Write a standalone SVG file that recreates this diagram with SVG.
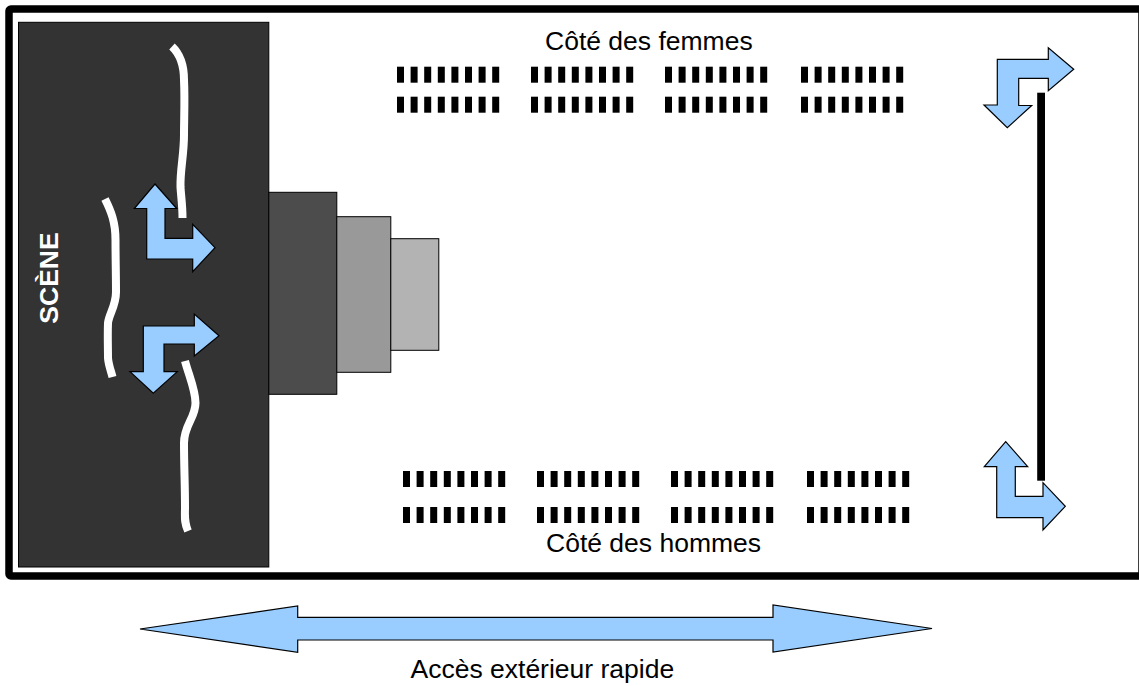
<svg xmlns="http://www.w3.org/2000/svg" width="1139" height="686" viewBox="0 0 1139 686">
<style>
.lbl{font-family:"Liberation Sans",Arial,sans-serif;font-size:26.500px;fill:#000}
.arr{fill:#99ccff;stroke:#000;stroke-width:1.2;stroke-linejoin:miter}
.box{stroke:#000;stroke-width:1}
.curtain{fill:none;stroke:#fff;stroke-width:8}
.seat{fill:#000}
</style>
<defs>
<g id="row"><rect class="seat" x="0" width="7" height="16"/><rect class="seat" x="13.6" width="7" height="16"/><rect class="seat" x="27.2" width="7" height="16"/><rect class="seat" x="40.8" width="7" height="16"/><rect class="seat" x="54.4" width="7" height="16"/><rect class="seat" x="68" width="7" height="16"/><rect class="seat" x="81.6" width="7" height="16"/><rect class="seat" x="95.2" width="7" height="16"/></g>
</defs>
<rect width="1139" height="686" fill="#fff"/>
<rect id="hall" x="9" y="9" width="1133" height="567" rx="2" fill="#fff" stroke="#000" stroke-width="7.5"/>
<g id="stage">
<rect class="box" x="18.5" y="22.3" width="250.3" height="544.7" fill="#333"/>
<text transform="translate(57.500,278) rotate(-90)" text-anchor="middle" font-family="'Liberation Sans',Arial,sans-serif" font-size="26.500" font-weight="bold" fill="#fff">SCÈNE</text>
</g>
<g id="steps">
<rect class="box" x="268.8" y="192.3" width="68" height="202" fill="#4c4c4c"/>
<rect class="box" x="336.8" y="216.7" width="54" height="155.6" fill="#999"/>
<rect class="box" x="390.8" y="238.7" width="48" height="111.6" fill="#b3b3b3"/>
</g>
<g id="curtains">
<path class="curtain" d="M172,46.5C181,55 184,66 184,80C185,100 184,118 184,135C184,155 180,170 180.5,187C181,196 182.5,205 182.5,218"/>
<path class="curtain" d="M105,199C111,211 115.500,222 115.500,240C115.500,258 116,275 116,292C116,306 109,314 108,323C107.500,335 108,348 108,358C108.500,365 111,371 112.500,377"/>
<path class="curtain" d="M185,361C189,376 195.500,390 195.500,403C195.500,418 184,425 184,443C184,465 185,485 185,507C185,517 184,522 188,531"/>
</g>
<g id="connectors">
<polygon id="arrow-stage-top" class="arr" points="155,184 176.700,208.500 165,208.500 165,238.300 192.700,238.300 192.700,224.300 215,247.700 192.700,271.700 192.700,259 146.700,259 146.700,208.500 134.300,208.500"/>
<polygon id="arrow-stage-bottom" class="arr" points="219,335.700 194.300,314 194.300,326 143.300,326 143.300,371.700 130,371.700 153.300,393.300 177.300,371.700 164,371.700 164,344 194.300,344 194.300,356"/>
<polygon id="arrow-hall-top" class="arr" points="1073.700,69.300 1048.300,47.700 1048.300,59.300 997.300,59.300 997.300,105 984,105 1007.300,127.700 1031.700,105.500 1018.700,105.500 1018.700,78.300 1048.300,78.300 1048.300,90.700"/>
<polygon id="arrow-hall-bottom" class="arr" points="1005.700,441.700 1027.700,466.700 1015.300,466.700 1015.300,496.300 1043,496.300 1043,482.700 1065.300,506.300 1043,530 1043,517.700 996.700,517.700 996.700,466.700 984.300,466.700"/>
<polygon id="arrow-access" class="arr" points="140,629 297.700,606 297.700,617.300 773,617.300 773,605 932,628.500 773,652 773,640 297.700,640 297.700,652.300"/>
</g>
<rect id="barrier" x="1037.200" y="92.700" width="7.800" height="388" fill="#000"/>
<g id="seats-women">
<use href="#row" x="397" y="66.700"/><use href="#row" x="531" y="66.700"/><use href="#row" x="665" y="66.700"/><use href="#row" x="801" y="66.700"/>
<use href="#row" x="397" y="96.700"/><use href="#row" x="531" y="96.700"/><use href="#row" x="665" y="96.700"/><use href="#row" x="801" y="96.700"/>
</g>
<g id="seats-men">
<use href="#row" x="403" y="471"/><use href="#row" x="537" y="471"/><use href="#row" x="671" y="471"/><use href="#row" x="807" y="471"/>
<use href="#row" x="403" y="507"/><use href="#row" x="537" y="507"/><use href="#row" x="671" y="507"/><use href="#row" x="807" y="507"/>
</g>
<text id="label-women" class="lbl" x="545" y="49.500">Côté des femmes</text>
<text id="label-men" class="lbl" x="546" y="551.500">Côté des hommes</text>
<text id="label-access" class="lbl" x="410.500" y="677.500">Accès extérieur rapide</text>
</svg>
